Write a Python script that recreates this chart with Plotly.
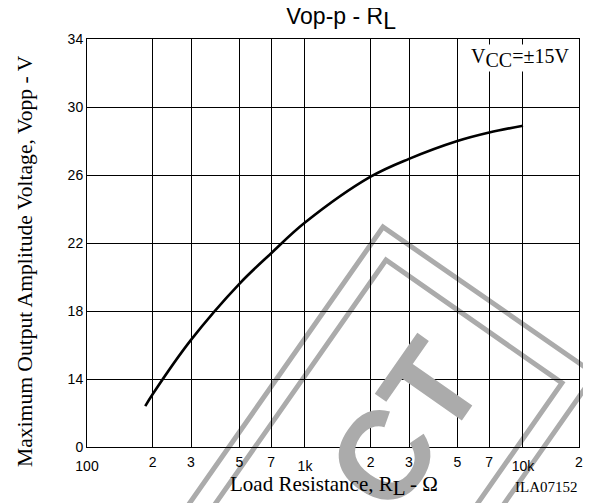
import math
import plotly.graph_objects as go

# ---- data ----
load_res = [185, 200, 300, 500, 700, 1000, 2000, 3000, 5000, 7000, 10000]
vopp = [12.4, 13.1, 16.3, 19.6, 21.4, 23.2, 25.9, 26.95, 28.0, 28.5, 28.9]

minor_tick_vals = [200, 300, 500, 700, 2000, 3000, 5000, 7000, 18070]
minor_tick_text = ["2", "3", "5", "7", "2", "3", "5", "7", "2"]
decade_tick_vals = [100, 1000, 10000]
decade_tick_text = ["100", "1k", "10k"]
y_tick_vals = [10, 14, 18, 22, 26, 30, 34]
y_tick_text = ["0", "14", "18", "22", "26", "30", "34"]

X_RANGE = [2, 4.257]
Y_RANGE = [10, 34]

# ---- geometry helpers (window pixel -> paper); page body has an 8px margin ----
OFF = 8
W, H = 591, 503
PW, PH = 492, 408
ML, MT = 87 - OFF, 39 - OFF
MR, MB = W - ML - PW, H - MT - PH


def px(x):
    return (x - OFF - ML) / PW


def py(y):
    return (MT + PH - (y - OFF)) / PH


SANS = "Liberation Sans, Arial, sans-serif"
SERIF = "Liberation Serif, Times New Roman, serif"
GREY = "#ababab"

fig = go.Figure()
fig.add_trace(go.Scatter(
    x=load_res, y=vopp, mode="lines",
    line=dict(color="black", width=2.6, shape="spline", smoothing=1.0),
    showlegend=False, hoverinfo="skip",
))
# helper trace so that the decade axis (labels + grid) is rendered
fig.add_trace(go.Scatter(
    x=load_res, y=vopp, xaxis="x2", mode="lines",
    line=dict(width=0), opacity=0, showlegend=False, hoverinfo="skip",
))

# ---- watermark (decorative stamp) ----
ux, uy = math.cos(math.radians(35)), math.sin(math.radians(35))
vx, vy = -uy, ux
LEN = 500


def stamp_path(ax, ay, bx, by):
    p = [(bx + LEN * vx, by + LEN * vy), (bx, by), (ax, ay), (ax + LEN * vx, ay + LEN * vy)]
    return "M " + " L ".join(f"{px(a):.4f},{py(b):.4f}" for a, b in p)


for (ax, ay, bx, by) in [(383, 227, 595, 374), (386, 260, 562, 383)]:
    fig.add_shape(type="path", path=stamp_path(ax, ay, bx, by), xref="paper", yref="paper",
                  line=dict(color=GREY, width=5), layer="below")

fig.add_annotation(text="<b>CT</b>", x=px(405), y=py(425), xref="paper", yref="paper",
                   showarrow=False, textangle=-55, font=dict(family=SANS, size=126, color=GREY),
                   xanchor="center", yanchor="middle")

# ---- texts ----
fig.add_annotation(text="Vop-p - R<sub><span style='font-size:23px'>L</span></sub>",
                   x=px(341), y=py(19), xref="paper", yref="paper", showarrow=False,
                   font=dict(family=SANS, size=23, color="black"), xanchor="center", yanchor="middle")
fig.add_annotation(text="Maximum Output Amplitude Voltage, Vopp - V",
                   x=px(25), y=py(261), xref="paper", yref="paper", showarrow=False, textangle=-90,
                   font=dict(family=SERIF, size=21.6, color="black"), xanchor="center", yanchor="middle")
fig.add_annotation(text="Load Resistance, R<sub><span style='font-size:21px'>L</span></sub> - Ω",
                   x=px(334), y=py(486), xref="paper", yref="paper", showarrow=False,
                   font=dict(family=SERIF, size=21, color="black"), xanchor="center", yanchor="middle")
fig.add_annotation(text="ILA07152", x=px(546), y=py(487), xref="paper", yref="paper", showarrow=False,
                   font=dict(family=SERIF, size=15, color="black"), xanchor="center", yanchor="middle")
fig.add_annotation(text="V<sub><span style='font-size:20px'>CC</span></sub>=±15V",
                   x=px(520), y=py(58), xref="paper", yref="paper", showarrow=False,
                   font=dict(family=SERIF, size=20, color="black"), xanchor="center", yanchor="middle",
                   bgcolor="white", borderpad=0)

axis_common = dict(showline=True, linecolor="black", linewidth=1, mirror=True, zeroline=False,
                   ticks="", tickfont=dict(family=SANS, size=14, color="black"))

fig.update_layout(
    width=W, height=H,
    margin=dict(l=ML, r=MR, t=MT, b=MB, pad=0),
    paper_bgcolor="white", plot_bgcolor="rgba(0,0,0,0)",
    showlegend=False,
    xaxis=dict(type="log", range=X_RANGE, tickmode="array", tickvals=minor_tick_vals,
               ticktext=minor_tick_text, showgrid=True, gridcolor="black", gridwidth=1,
               ticklabelstandoff=2, **axis_common),
    xaxis2=dict(type="log", range=X_RANGE, overlaying="x", anchor="y", side="bottom",
                tickmode="array", tickvals=decade_tick_vals, ticktext=decade_tick_text,
                showgrid=True, gridcolor="black", gridwidth=1,
                showline=False, zeroline=False, ticks="",
                tickfont=dict(family=SANS, size=14, color="black"), ticklabelstandoff=9),
    yaxis=dict(range=Y_RANGE, tickmode="array", tickvals=y_tick_vals, ticktext=y_tick_text,
               showgrid=True, gridcolor="black", gridwidth=1, **axis_common),
)

fig.write_html("out.html")
